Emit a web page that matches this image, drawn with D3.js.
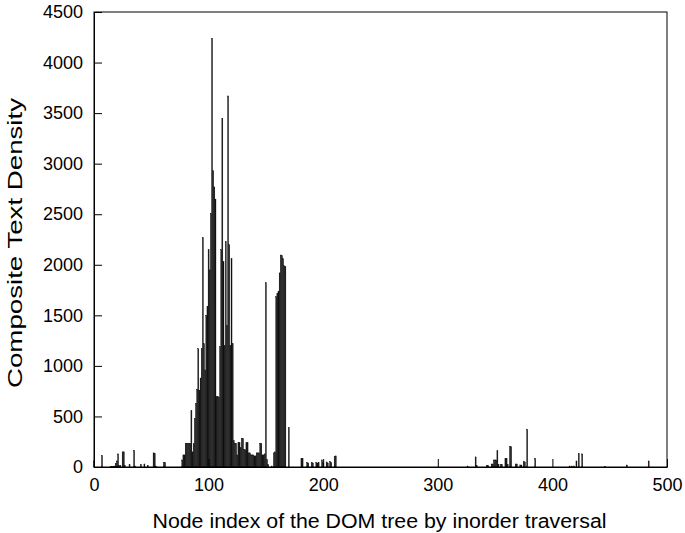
<!DOCTYPE html>
<html>
<head>
<meta charset="utf-8">
<script src="https://cdn.jsdelivr.net/npm/d3@7"></script>
<style>
  html, body { margin: 0; padding: 0; background: #fff; }
  svg { display: block; font-family: "Liberation Sans", Arial, Helvetica, sans-serif; }
</style>
</head>
<body>
<svg id="chart" width="685" height="533"></svg>
<script>
// Node indices (inorder traversal) with non-zero composite text density
const nodeIndex = [
  0, 7, 15, 16, 17, 18, 19, 20, 21, 22, 23, 25, 26, 27, 31, 35, 36, 41, 44, 47, 52, 53, 54, 61, 62,
  77, 78, 79, 80, 81, 82, 83, 84, 85, 86, 87, 88, 89, 90, 91, 92, 93, 94, 95, 96, 97, 98, 99,
  100, 101, 102, 103, 104, 105, 106, 107, 108, 109, 110, 111, 112, 113, 114, 115, 116, 117, 118, 119,
  120, 121, 122, 123, 124, 125, 126, 127, 128, 129, 130, 131, 132, 133, 134, 135, 136, 137, 138, 139,
  140, 141, 142, 143, 144, 145, 146, 147, 148, 149, 150, 151, 152, 155, 157, 158, 159,
  160, 161, 162, 163, 164, 165, 166, 167, 170,
  181, 182, 186, 187, 190, 191, 194, 195, 196, 199, 200, 203, 204, 206, 207, 210, 211,
  326, 333, 334, 343, 344, 347, 348, 349, 350, 351, 352, 353, 355, 356, 359, 360, 361, 363, 364,
  368, 369, 372, 373, 375, 376, 378, 385,
  415, 417, 419, 421, 423, 426, 446, 465, 484
];
const density = [
  60, 115, 5, 5, 8, 10, 35, 60, 130, 15, 15, 150, 150, 15, 25, 165, 10, 25, 30, 15, 140, 135, 10, 45, 45,
  70, 120, 120, 235, 235, 235, 235, 235, 557, 150, 230, 480, 630, 770, 1170, 760, 880, 1170, 2270, 1220, 960, 1500, 1590,
  2150, 1950, 2510, 4240, 2930, 2770, 2650, 695, 700, 690, 1190, 2150, 3450, 2030, 1200, 2230, 1400, 3670, 2200, 1200,
  2060, 1220, 260, 234, 234, 120, 240, 240, 190, 283, 283, 170, 170, 240, 240, 140, 140, 120, 120, 120,
  110, 110, 140, 140, 140, 234, 234, 120, 120, 130, 1823, 75, 25, 10, 140, 150, 1685,
  1720, 1740, 1920, 2097, 2090, 2060, 1990, 1980, 390,
  85, 85, 45, 40, 45, 40, 45, 40, 45, 70, 45, 50, 40, 55, 45, 105, 110,
  10, 100, 15, 15, 15, 30, 30, 70, 70, 70, 160, 25, 25, 25, 85, 85, 25, 200, 200,
  30, 30, 20, 20, 55, 50, 373, 85,
  10, 10, 10, 60, 135, 130, 5, 20, 60
];
const xTicks = [0, 100, 200, 300, 400, 500];
const yTicks = [0, 500, 1000, 1500, 2000, 2500, 3000, 3500, 4000, 4500];
const xTitle = "Node index of the DOM tree by inorder traversal";
const yTitle = "Composite Text Density";

const data = nodeIndex.map((n, i) => ({ n, v: density[i] }));

const svg = d3.select("#chart");
const mLeft = 94, mRight = 667, mTop = 12, mBottom = 467;

const x = d3.scaleLinear().domain([0, 500]).range([mLeft, mRight]);
const y = d3.scaleLinear().domain([0, 4500]).range([mBottom, mTop]);

// bars
svg.append("g")
  .selectAll("rect")
  .data(data)
  .join("rect")
  .attr("x", d => x(d.n - 0.45))
  .attr("width", d => x(d.n + 0.45) - x(d.n - 0.45))
  .attr("y", d => y(d.v))
  .attr("height", d => y(0) - y(d.v))
  .attr("fill", "#111")
  .attr("stroke", "#111")
  .attr("stroke-width", 0.35);

// frame
svg.append("rect")
  .attr("x", mLeft).attr("y", mTop)
  .attr("width", mRight - mLeft).attr("height", mBottom - mTop)
  .attr("fill", "none").attr("stroke", "#000").attr("stroke-width", 1);

// axes
const fmt = d3.format("d");
const xAxis = d3.axisBottom(x).tickValues(xTicks).tickFormat(fmt).tickSizeInner(-8).tickSizeOuter(0).tickPadding(11);
const yAxis = d3.axisLeft(y).tickValues(yTicks).tickFormat(fmt).tickSizeInner(-8).tickSizeOuter(0).tickPadding(11);

const gx = svg.append("g").attr("transform", `translate(0,${mBottom})`).call(xAxis);
const gy = svg.append("g").attr("transform", `translate(${mLeft},0)`).call(yAxis);
[gx, gy].forEach(g => {
  g.select(".domain").attr("stroke", "#000");
  g.selectAll(".tick line").attr("stroke", "#000");
  g.selectAll(".tick text")
    .attr("fill", "#000")
    .style("font-size", "18px")
    .style("font-family", "'Liberation Sans', Arial, sans-serif");
});

// titles
svg.append("text")
  .attr("x", (mLeft + mRight) / 2 - 1)
  .attr("y", 528)
  .attr("text-anchor", "middle")
  .attr("textLength", 454)
  .attr("lengthAdjust", "spacingAndGlyphs")
  .style("font-size", "20px")
  .attr("fill", "#000")
  .text(xTitle);

svg.append("text")
  .attr("transform", `translate(22,243) rotate(-90)`)
  .attr("text-anchor", "middle")
  .attr("textLength", 290)
  .attr("lengthAdjust", "spacingAndGlyphs")
  .style("font-size", "21px")
  .attr("fill", "#000")
  .text(yTitle);
</script>
</body>
</html>
